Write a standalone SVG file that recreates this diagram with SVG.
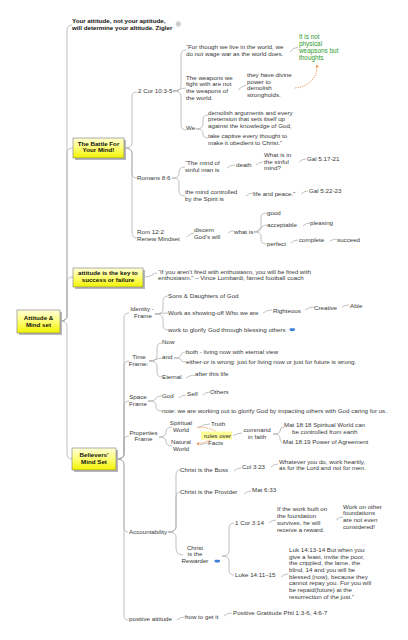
<svg xmlns="http://www.w3.org/2000/svg" width="408" height="640" viewBox="0 0 408 640">
<style>
.t{font-family:"Liberation Sans",Arial,sans-serif;font-size:6.2px;fill:#383838}
.b{font-weight:bold;fill:#111}
.m{text-anchor:middle}
.g{fill:#2f9a2f;font-size:6.4px}
.c{fill:none;stroke:#a6a6a6;stroke-width:0.7}
.o{fill:none;stroke:#ee7a2a;stroke-width:0.7;stroke-dasharray:1.4 1}
.box{fill:url(#yg);stroke:#7a7a7a;stroke-width:0.6}
.sh{fill:#b8b8b8}
.bl{fill:#3a7fd8}
</style>
<defs>
<linearGradient id="yg" x1="0" y1="0" x2="0" y2="1">
<stop offset="0" stop-color="#ffffd8"/>
<stop offset="0.45" stop-color="#ffff80"/>
<stop offset="1" stop-color="#f2f200"/>
</linearGradient>
<marker id="ar" viewBox="0 0 6 6" refX="5" refY="3" markerWidth="5" markerHeight="5" orient="auto">
<path d="M0 0 L6 3 L0 6 L2 3 Z" fill="#ee7a2a"/>
</marker>
</defs>

<g id="connectors">
<path class="c" d="M60 321 Q67 321 67 316 V30 Q67 25 72 25"/>
<path class="c" d="M60 321 Q67 321 67 316 V153 Q67 148 73 148"/>
<path class="c" d="M60 321 Q67 321 67 316 V282 Q67 277 73 277"/>
<path class="c" d="M60 321 Q67 321 67 326 V454 Q67 459 72 459"/>
<path class="c" d="M124 148 Q132 148 132 143 V97 Q132 92 137 92"/>
<path class="c" d="M124 148 Q132 148 132 153 V173 Q132 178 137 178"/>
<path class="c" d="M124 148 Q132 148 132 153 V232 Q132 238 137 238"/>
<path class="c" d="M173 91 Q181 91 181 86 V55 Q181 50 186 50"/>
<path class="c" d="M173 91 C179 91 180 88 186 88"/>
<path class="c" d="M173 91 Q181 91 181 96 V125 Q181 130 186 130"/>
<path class="c" d="M290 52 Q293 48 298 47"/>
<path class="c" d="M238 90 Q242 86 246 85"/>
<path class="c" d="M196 129 Q203 129 203 124 V120 Q203 115 208 115"/>
<path class="c" d="M196 129 Q203 129 203 133 V134 Q203 138 208 138"/>
<path class="c" d="M172 178 Q179 178 179 174 V172 Q179 167 185 167"/>
<path class="c" d="M172 178 Q179 178 179 182 V191 Q179 196 185 196"/>
<path class="c" d="M227 168 Q230 165 235 165"/>
<path class="c" d="M256 165 Q259 162 263 162"/>
<path class="c" d="M299 162 Q302 159 306 159"/>
<path class="c" d="M246 196 Q249 193 253 193"/>
<path class="c" d="M301 194 Q304 191 308 191"/>
<path class="c" d="M187 237 Q190 233 194 233"/>
<path class="c" d="M228 233 Q231 230 234 231"/>
<path class="c" d="M254 232 Q261 232 261 228 V217 Q261 213 267 213"/>
<path class="c" d="M254 232 C259 232 261 225 267 225"/>
<path class="c" d="M254 232 Q261 232 261 236 V240 Q261 244 267 244"/>
<path class="c" d="M303 226 Q306 223 310 223"/>
<path class="c" d="M291 243 Q294 240 298 240"/>
<path class="c" d="M330 241 Q333 239 337 239"/>
<path class="c" d="M143 277 Q150 277 152 275 Q154 273 157 273"/>
<path class="c" d="M116 459 Q124 459 124 454 V318 Q124 313 129 313"/>
<path class="c" d="M116 459 Q124 459 124 454 V366 Q124 361 129 361"/>
<path class="c" d="M116 459 Q124 459 124 454 V406 Q124 401 129 401"/>
<path class="c" d="M116 459 Q124 459 124 454 V441 Q124 436 129 436"/>
<path class="c" d="M116 459 Q124 459 124 464 V527 Q124 532 128 532"/>
<path class="c" d="M116 459 Q124 459 124 464 V615 Q124 620 128 620"/>
<path class="c" d="M155 314 Q163 314 163 309 V301 Q163 296 168 296"/>
<path class="c" d="M155 314 Q162 313 168 313"/>
<path class="c" d="M155 314 Q163 314 163 319 V325 Q163 330 168 330"/>
<path class="c" d="M263 313 Q267 310 272 310"/>
<path class="c" d="M305 310 Q309 307 314 307"/>
<path class="c" d="M342 307 Q345 305 349 305"/>
<path class="c" d="M149 361 Q157 361 157 356 V348 Q157 343 162 343"/>
<path class="c" d="M149 361 C155 361 157 358 162 358"/>
<path class="c" d="M149 361 Q157 361 157 366 V372 Q157 377 162 377"/>
<path class="c" d="M174 358 Q181 358 181 355 Q181 352 186 352"/>
<path class="c" d="M174 358 Q181 358 181 360 Q181 362 186 362"/>
<path class="c" d="M186 378 Q190 375 195 375"/>
<path class="c" d="M148 401 Q156 401 156 398 Q156 396 162 396"/>
<path class="c" d="M148 401 Q156 401 156 405 V407 Q156 411 162 411"/>
<path class="c" d="M179 398 Q182 395 186 395"/>
<path class="c" d="M203 395 Q206 392 210 392"/>
<path class="c" d="M159 437 Q166 437 166 432 Q166 427 172 427"/>
<path class="c" d="M159 437 Q166 437 166 441 Q166 446 172 446"/>
<path class="c" d="M198 428 Q203 424 210 424"/>
<path class="c" d="M200 445 Q204 443 208 443"/>
<path class="c" d="M233 436 Q237 433 242 433"/>
<path class="c" d="M273 434 Q280 434 280 431 Q280 427 284 427"/>
<path class="c" d="M273 434 Q280 434 280 438 Q280 443 284 443"/>
<path class="c" d="M168 532 Q176 532 176 527 V475 Q176 470 180 470"/>
<path class="c" d="M168 532 Q176 532 176 527 V497 Q176 492 180 492"/>
<path class="c" d="M168 532 Q176 532 176 537 V548 Q176 555 183 555"/>
<path class="c" d="M234 471 Q237 468 241 468"/>
<path class="c" d="M271 467 Q274 464 278 464"/>
<path class="c" d="M244 494 Q247 491 251 491"/>
<path class="c" d="M222 556 Q229 556 229 551 V528 Q229 523 234 523"/>
<path class="c" d="M222 556 Q229 556 229 561 V570 Q229 575 234 575"/>
<path class="c" d="M269 523 Q272 520 276 520"/>
<path class="c" d="M336 520 Q339 517 343 517"/>
<path class="c" d="M281 577 Q284 574 288 574"/>
<path class="c" d="M177 620 Q180 617 185 617"/>
<path class="c" d="M224 616 Q227 613 232 613"/>
<path class="o" d="M295 88 C308 87 318 78 317 65" marker-end="url(#ar)"/>
<path class="o" d="M197 427 C206 427 213 429 216 432"/>
<path class="o" d="M210 440 C206 442 202 443 197 444" marker-end="url(#ar)"/>
</g>

<g id="quote-top">
<text class="t b" x="72" y="23">Your attitude, not your aptitude,</text>
<text class="t b" x="72" y="29.7">will determine your altitude. Zigler</text>
<circle cx="178.3" cy="24" r="2.3" fill="#fff" stroke="#888" stroke-width="0.5"/>
<path d="M177 24 H179.6 M178.3 22.7 V25.3" stroke="#666" stroke-width="0.5"/>
</g>

<g id="root">
<rect class="sh" x="19" y="312" width="43" height="23"/>
<rect class="box" x="17" y="310" width="43" height="23"/>
<text class="t b m" x="38.5" y="320">Attitude &amp;</text>
<text class="t b m" x="38.5" y="327">Mind set</text>
</g>

<g id="battle">
<rect class="sh" x="75" y="140" width="51" height="20"/>
<rect class="box" x="73" y="138" width="51" height="20"/>
<text class="t b m" x="98.5" y="145.5">The Battle For</text>
<text class="t b m" x="98.5" y="152.2">Your Mind!</text>
</g>

<g id="cor">
<text class="t" x="138" y="93">2 Cor 10:3-5</text>
<text class="t" x="186" y="48.7">“For though we live in the world, we</text>
<text class="t" x="186" y="56">do not wage war as the world does.</text>
<text class="t" x="186" y="79.7">The weapons we</text>
<text class="t" x="186" y="86.3">fight with are not</text>
<text class="t" x="186" y="93">the weapons of</text>
<text class="t" x="186" y="99.7">the world.</text>
<text class="t" x="186" y="130">We</text>
<text class="t" x="208" y="114.7">demolish arguments and every</text>
<text class="t" x="208" y="121.4">pretension that sets itself up</text>
<text class="t" x="208" y="128.1">against the knowledge of God,</text>
<text class="t" x="208" y="138">take captive every thought to</text>
<text class="t" x="208" y="144.7">make it obedient to Christ.”</text>
<text class="t g" x="299" y="38.5">It is not</text>
<text class="t g" x="299" y="45.5">physical</text>
<text class="t g" x="299" y="52.5">weapsons but</text>
<text class="t g" x="299" y="59.5">thoughts</text>
<text class="t" x="247" y="77">they have divine</text>
<text class="t" x="247" y="83.7">power to</text>
<text class="t" x="247" y="90.3">demolish</text>
<text class="t" x="247" y="97">strongholds.</text>
</g>

<g id="romans">
<text class="t" x="137" y="179.5">Romans 8:6</text>
<text class="t" x="185" y="165">“The mind of</text>
<text class="t" x="185" y="172">sinful man is</text>
<text class="t" x="236" y="166.5">death</text>
<text class="t" x="264" y="157">What is in</text>
<text class="t" x="264" y="163.7">the sinful</text>
<text class="t" x="264" y="170.4">mind?</text>
<text class="t" x="307" y="161">Gal 5.17-21</text>
<text class="t" x="185" y="194.3">the mind controlled</text>
<text class="t" x="185" y="201">by the Spirit is</text>
<text class="t" x="253" y="195.5">life and peace.”</text>
<text class="t" x="309" y="192.7">Gal 5:22-23</text>
</g>

<g id="rom12">
<text class="t" x="137" y="234">Rom 12:2</text>
<text class="t" x="137" y="241">Renew Mindset</text>
<text class="t" x="194" y="232">discern</text>
<text class="t" x="194" y="239">God's will</text>
<text class="t" x="234" y="233.7">what is</text>
<text class="t" x="267" y="214.7">good</text>
<text class="t" x="267" y="227">acceptable</text>
<text class="t" x="310" y="224.7">pleasing</text>
<text class="t" x="267" y="246">perfect</text>
<text class="t" x="299" y="241.7">complete</text>
<text class="t" x="337" y="241.7">succeed</text>
</g>

<g id="attitude-key">
<rect class="sh" x="75" y="270" width="70" height="19"/>
<rect class="box" x="73" y="268" width="70" height="19"/>
<text class="t b m" x="108" y="275">attitude is the key to</text>
<text class="t b m" x="108" y="281.6">success or failure</text>
<text class="t" x="158" y="273.7">“If you aren't fired with enthusiasm, you will be fired with</text>
<text class="t" x="158" y="280.3">enthusiasm.” – Vince Lombardi, famed football coach</text>
</g>

<g id="believers">
<rect class="sh" x="74" y="450" width="44" height="22"/>
<rect class="box" x="72" y="448" width="44" height="22"/>
<text class="t b m" x="94" y="457.2">Believers'</text>
<text class="t b m" x="94" y="464">Mind Set</text>
</g>

<g id="identity">
<text class="t m" x="142" y="311">Identity -</text>
<text class="t m" x="143" y="318">Frame</text>
<text class="t" x="168" y="298">Sons &amp; Daughters of God</text>
<text class="t" x="168" y="314.7">Work as showing-off Who we are</text>
<text class="t" x="273" y="312.7">Righteous</text>
<text class="t" x="314" y="310.3">Creative</text>
<text class="t" x="350" y="308">Able</text>
<text class="t" x="168" y="332">work to glorify God through blessing others</text>
<rect class="bl" x="289.5" y="328.3" width="5.5" height="2.6" rx="1.3"/>
</g>

<g id="time">
<text class="t m" x="139" y="359.3">Time</text>
<text class="t m" x="138.5" y="366">Frame:</text>
<text class="t" x="162" y="343.7">Now</text>
<text class="t" x="162" y="359.3">and</text>
<text class="t" x="186" y="353.7">both - living now with eternal view</text>
<text class="t" x="186" y="363.7">either-or is wrong: just for living now or just for future is wrong.</text>
<text class="t" x="162" y="378.7">Eternal</text>
<text class="t" x="195" y="376.3">after this life</text>
</g>

<g id="space">
<text class="t m" x="138" y="399.3">Space</text>
<text class="t m" x="138" y="406.3">Frame</text>
<text class="t" x="162" y="398">God</text>
<text class="t" x="187" y="396">Self</text>
<text class="t" x="210" y="393.7">Others</text>
<text class="t" x="162" y="412.7">note: we are working out to glorify God by impacting others with God caring for us.</text>
</g>

<g id="properties">
<text class="t m" x="143.5" y="434.7">Properties</text>
<text class="t m" x="143.5" y="441.3">Frame</text>
<text class="t m" x="181" y="425.3">Spiritual</text>
<text class="t m" x="181" y="431.5">World</text>
<text class="t m" x="181" y="444.3">Natural</text>
<text class="t m" x="181" y="450.5">World</text>
<text class="t" x="211" y="426.3">Truth</text>
<text class="t" x="208" y="445.3">Facts</text>
<rect x="201" y="431.5" width="31" height="8" fill="#ffff9a"/>
<text class="t" x="204" y="437.8" style="fill:#222">rules over</text>
<text class="t m" x="257" y="432">command</text>
<text class="t m" x="257" y="438.7">in faith</text>
<text class="t" x="284" y="427">Mat 18:18 Spiritual World can</text>
<text class="t" x="292" y="434">be controlled from earth</text>
<text class="t" x="283" y="444.3">Mat 18:19  Power of Agreement</text>
</g>

<g id="accountability">
<text class="t" x="129" y="533.7">Accountability</text>
<text class="t" x="180" y="472">Christ is the Boss</text>
<text class="t" x="242" y="469.3">Col 3:23</text>
<text class="t" x="279" y="463.7">Whatever you do, work heartily,</text>
<text class="t" x="279" y="470.3">as for the Lord and not for men.</text>
<text class="t" x="180" y="494.3">Christ is the Provider</text>
<text class="t" x="252" y="492">Mat 6:33</text>
<text class="t m" x="195" y="549.7">Christ</text>
<text class="t m" x="195" y="556.3">is the</text>
<text class="t m" x="195" y="563">Rewarder</text>
<rect class="bl" x="214.5" y="559.8" width="5.5" height="2.6" rx="1.3"/>
<text class="t" x="235" y="524.7">1 Cor 3:14</text>
<text class="t" x="277" y="511.3">If the work built on</text>
<text class="t" x="277" y="518">the foundation</text>
<text class="t" x="277" y="524.7">survives, he will</text>
<text class="t" x="277" y="531.5">receive a reward.</text>
<text class="t" x="343" y="508.7">Work on other</text>
<text class="t" x="343" y="515.4">foundations</text>
<text class="t" x="343" y="522.1">are not even</text>
<text class="t" x="343" y="529">considered!</text>
<text class="t" x="235" y="577">Luke 14:11–15</text>
<text class="t" x="289" y="552">Luk 14:13-14  But when you</text>
<text class="t" x="289" y="558.7">give a feast, invite the poor,</text>
<text class="t" x="289" y="565.3">the crippled, the lame, the</text>
<text class="t" x="289" y="571.8">blind,  14  and you will be</text>
<text class="t" x="289" y="578.5">blessed (now), because they</text>
<text class="t" x="289" y="585.3">cannot repay you. For you will</text>
<text class="t" x="289" y="592">be repaid(future) at the</text>
<text class="t" x="289" y="599">resurrection of the just.”</text>
</g>

<g id="positive">
<text class="t" x="129" y="621.3">positive attitude</text>
<text class="t" x="185" y="618.7">how to get it</text>
<text class="t" x="233" y="615.3">Positive Gratitude Phil 1:3-6, 4:6-7</text>
</g>
</svg>
